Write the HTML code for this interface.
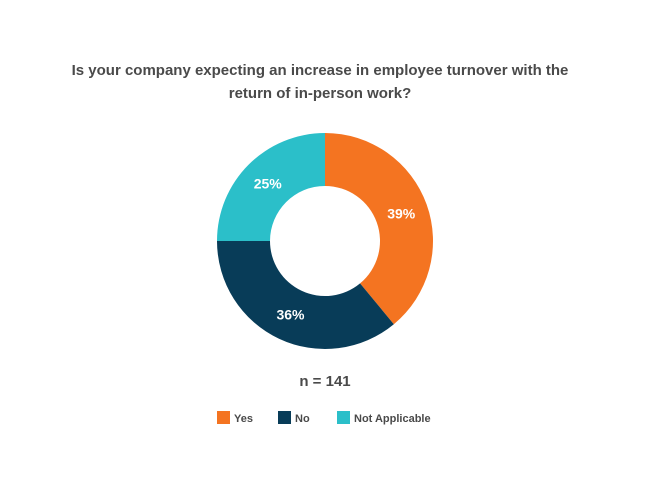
<!DOCTYPE html>
<html><head><meta charset="utf-8"><style>
body{margin:0;background:#fff;font-family:"Liberation Sans",sans-serif;}
svg{display:block}
</style></head><body>
<svg width="651" height="501">
<text x="320" y="75" text-anchor="middle" font-size="15" font-weight="bold" fill="#4a4a4a">Is your company expecting an increase in employee turnover with the</text>
<text x="320" y="98" text-anchor="middle" font-size="15" font-weight="bold" fill="#4a4a4a">return of in-person work?</text>
<g id="donut"></g>
<text x="325" y="386" text-anchor="middle" font-size="15" font-weight="bold" fill="#4a4a4a">n = 141</text>
<g id="legend"></g>
</svg>
<script>
const categories=["Yes","No","Not Applicable"];
const values=[39,36,25];
const colors=["#f47421","#083c58","#2bbfc9"];
const NS="http://www.w3.org/2000/svg";
const cx=325,cy=241,R=108,r=55;
const total=values.reduce((a,b)=>a+b,0);
const g=document.getElementById("donut");
let a0=0;
function pt(rad,ang){return [cx+rad*Math.sin(ang),cy-rad*Math.cos(ang)];}
values.forEach((v,i)=>{
  const a1=a0+v/total*2*Math.PI;
  const large=(a1-a0)>Math.PI?1:0;
  const [x0,y0]=pt(R,a0),[x1,y1]=pt(R,a1),[x2,y2]=pt(r,a1),[x3,y3]=pt(r,a0);
  const p=document.createElementNS(NS,"path");
  p.setAttribute("d",`M${x0},${y0}A${R},${R} 0 ${large} 1 ${x1},${y1}L${x2},${y2}A${r},${r} 0 ${large} 0 ${x3},${y3}Z`);
  p.setAttribute("fill",colors[i]);
  
  
  g.appendChild(p);
  const am=(a0+a1)/2;const [lx,ly]=pt(81,am);
  const t=document.createElementNS(NS,"text");
  t.setAttribute("x",lx);t.setAttribute("y",ly+5);
  t.setAttribute("text-anchor","middle");t.setAttribute("font-size","14");
  t.setAttribute("font-weight","bold");t.setAttribute("fill","#fff");
  t.textContent=v+"%";
  
  
  g.appendChild(t);
  a0=a1;
});
const lg=document.getElementById("legend");
const lxs=[217,278,337];
categories.forEach((c,i)=>{
  const s=document.createElementNS(NS,"rect");
  s.setAttribute("x",lxs[i]);s.setAttribute("y",411);s.setAttribute("width",13);s.setAttribute("height",13);
  s.setAttribute("fill",colors[i]);
  
  
  lg.appendChild(s);
  const t=document.createElementNS(NS,"text");
  t.setAttribute("x",lxs[i]+17);t.setAttribute("y",422);
  t.setAttribute("font-size","11");t.setAttribute("font-weight","bold");t.setAttribute("fill","#4a4a4a");
  t.textContent=c;
  
  
  lg.appendChild(t);
});
</script>
</body></html>
